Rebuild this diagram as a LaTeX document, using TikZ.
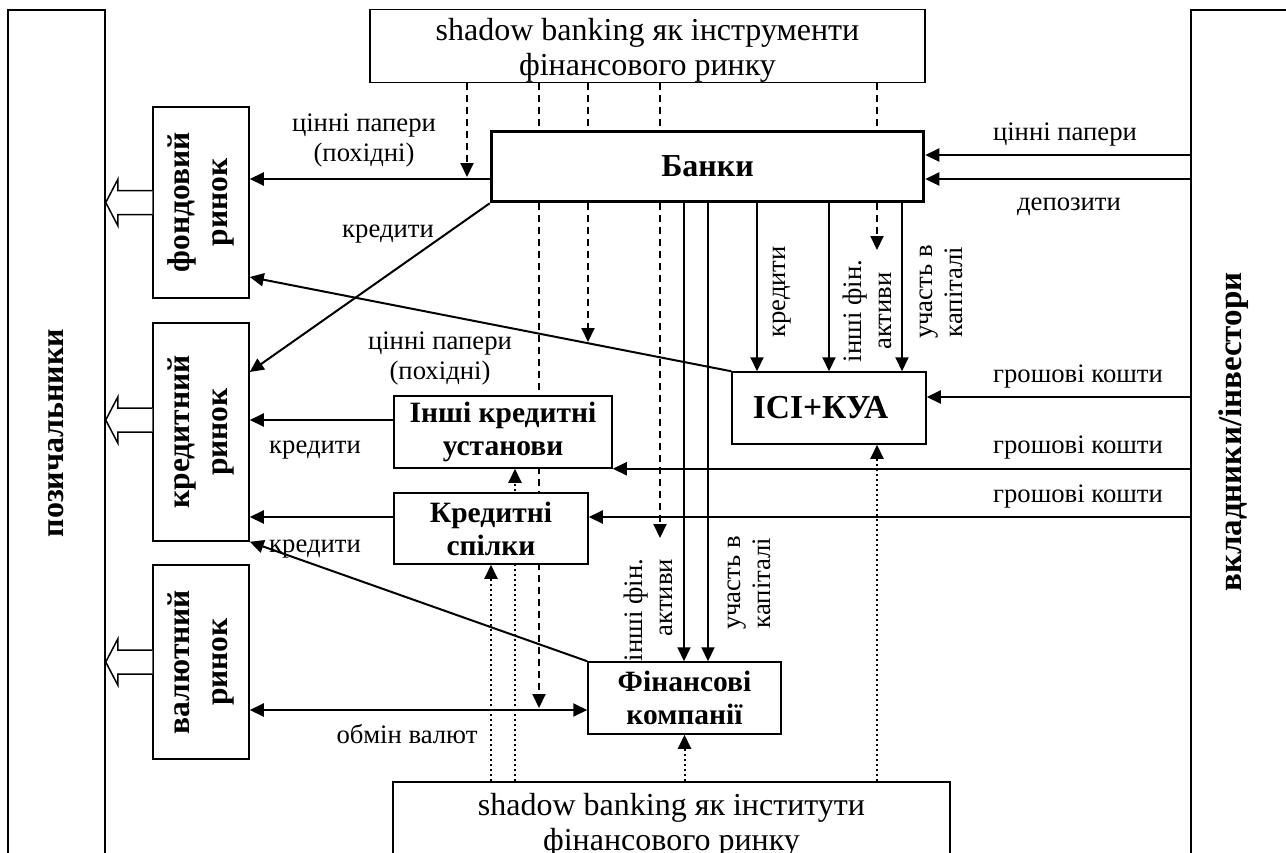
\documentclass[tikz,border=0pt]{standalone}
\usepackage{fontspec}
\setmainfont{Liberation Serif}
\usepackage{graphicx}
\usetikzlibrary{arrows.meta,calc,backgrounds}
\newcommand\hollowarrow[2]{%
  \draw[hollow] ($(#1.west|-#2)+(0,-12)$) -- ($(borrow.east|-#2)+(12,-12)$) -- ++(0,-11)
    -- (borrow.east|-#2) -- ($(borrow.east|-#2)+(12,23)$) -- ++(0,-11) -- ($(#1.west|-#2)+(0,12)$);}
\begin{document}
\begin{tikzpicture}[x=1pt,y=-1pt,
  box/.style={draw, line width=1.5pt, fill=white, inner sep=0pt, align=center,
    font=\fontsize{32}{35}\selectfont},
  bbox/.style={box, font=\fontsize{29.5}{33}\selectfont\bfseries},
  mbox/.style={box, font=\fontsize{31.5}{38}\selectfont\bfseries},
  lab/.style={font=\fontsize{26.7}{30}\selectfont, inner sep=0pt, align=center},
  arr/.style={line width=2pt, -{Triangle[length=14pt,width=13pt]}},
  dsh/.style={arr, dash pattern=on 7pt off 5pt},
  dot/.style={arr, dash pattern=on 2pt off 3pt},
  hollow/.style={draw, line width=1.5pt, fill=white}]
\useasboundingbox (0,0) rectangle (1286,852);
\clip (0,0) rectangle (1286,852);
% rows and columns
\foreach \r in {155,177,179,250,277,342,372,397,420,517,538,708,710}{\coordinate (r\r) at (0,\r);}
\foreach \c in {467,491,515,539,588,660,684,708,757,829,877,902}{\coordinate (k\c) at (\c,0);}
% boxes
\node[box, minimum width=555, minimum height=72] (top) at (647.5,46) {\rule{0pt}{31pt}shadow banking як інструменти\\фінансового ринку};
\node[box, minimum width=557, minimum height=78] (bot) at (671.5,821) {\rule{0pt}{30pt}shadow banking як інститути\\фінансового ринку};
\node[box, line width=3.5pt, font=\fontsize{32}{34}\selectfont\bfseries, minimum width=432, minimum height=70] (banks) at (707.5,166.5) {Банки};
\node[mbox, minimum width=96, minimum height=191] (fond) at (201,202.5) {\rotatebox{90}{\begin{tabular}{@{}c@{}}фондовий\\ринок\end{tabular}}};
\node[mbox, minimum width=96, minimum height=218] (credit) at (201,432) {\rotatebox{90}{\begin{tabular}{@{}c@{}}кредитний\\ринок\end{tabular}}};
\node[mbox, minimum width=96, minimum height=194] (val) at (201,662) {\rotatebox{90}{\begin{tabular}{@{}c@{}}валютний\\ринок\end{tabular}}};
\node[mbox, font=\fontsize{32}{38}\selectfont\bfseries, minimum width=97, minimum height=846] (borrow) at (56.5,433) {\rotatebox{90}{позичальники}};
\node[box, minimum width=109, minimum height=846] (inv) at (1245.5,433) {};
\node[font=\fontsize{33}{35}\selectfont\bfseries, inner sep=0pt] (invtxt) at (1234,432) {\rotatebox{90}{вкладники/інвестори}};
\node[bbox, font=\fontsize{33.5}{36}\selectfont\bfseries, minimum width=194, minimum height=72] (isi) at (829,408) {ІСІ+КУА\hspace*{17pt}};
\node[bbox, minimum width=218, minimum height=72] (oth) at (503,432) {Інші кредитні\\установи};
\node[bbox, minimum width=194, minimum height=71] (cu) at (491,528.5) {Кредитні\\спілки};
\node[bbox, minimum width=193, minimum height=72] (fin) at (684.5,698) {Фінансові\\компанії};
% dashed and dotted lines behind the boxes
\begin{pgfonlayer}{background}
\draw[dsh] (k467|-top.south) -- (k467|-r177);
\draw[dsh] (k539|-top.south) -- (k539|-r708);
\draw[dsh] (k588|-top.south) -- (k588|-r342);
\draw[dsh] (k660|-top.south) -- (k660|-r538);
\draw[dsh] (k877|-top.south) -- (k877|-r250);
\draw[dot] (k491|-bot.north) -- (cu.south);
\draw[dot] (k515|-bot.north) -- (k515|-oth.south);
\draw[dot] (fin.south|-bot.north) -- (fin.south);
\draw[dot] (k877|-bot.north) -- (k877|-isi.south);
\end{pgfonlayer}
% solid connectors
\draw[arr] (banks.west|-r179) -- (fond.east|-r179);
\draw[arr] (inv.west|-r155) -- (banks.east|-r155);
\draw[arr] (inv.west|-r179) -- (banks.east|-r179);
\draw[arr] (banks.south west) -- (credit.east|-r372);
\draw[arr] (isi.north west) -- (fond.east|-r277);
\draw[arr] (fin.north west) -- (credit.south east);
\draw[arr] (oth.west|-r420) -- (credit.east|-r420);
\draw[arr] (cu.west|-r517) -- (credit.east|-r517);
\draw[arr, {Triangle[length=14pt,width=13pt]}-{Triangle[length=14pt,width=13pt]}] (val.east|-r710) -- (fin.west|-r710);
\draw[arr] (inv.west|-r397) -- (isi.east|-r397);
\draw[arr] (inv.west|-oth.south) -- (oth.south east);
\draw[arr] (inv.west|-r517) -- (cu.east|-r517);
\draw[arr] (k757|-banks.south) -- (k757|-isi.north);
\draw[arr] (k829|-banks.south) -- (k829|-isi.north);
\draw[arr] (k902|-banks.south) -- (k902|-isi.north);
\draw[arr] (k684|-banks.south) -- (k684|-fin.north);
\draw[arr] (k708|-banks.south) -- (k708|-fin.north);
% hollow arrows
\hollowarrow{fond}{fond.west}
\hollowarrow{credit}{r420}
\hollowarrow{val}{val.west}
% labels
\node[lab] (l1) at (364,140) {цінні папери\\(похідні)};
\node[lab, anchor=base] (l2) at (388,237) {кредити};
\node[lab] (l3) at (440,358) {цінні папери\\(похідні)};
\node[lab, anchor=base] (l4) at (315,453) {кредити};
\node[lab, anchor=base] (l5) at (315,552) {кредити};
\node[lab, anchor=base] (l6) at (407,743) {обмін валют};
\node[lab, anchor=base] (l7) at (1065,140) {цінні папери};
\node[lab, anchor=base] (l8) at (1069,210) {депозити};
\node[lab, anchor=base] (l9) at (1078,382) {грошові кошти};
\node[lab, anchor=base] (l10) at (1078,453) {грошові кошти};
\node[lab, anchor=base] (l11) at (1078,502) {грошові кошти};
\node[lab, rotate=90] (v1) at (782,292) {кредити};
\node[lab, rotate=90] (v2) at (867,311) {інші фін.\\активи};
\node[lab, rotate=90] (v3) at (941,292) {участь в\\капіталі};
\node[lab, rotate=90, align=right] (v4) at (648,610) {інші фін.\\активи};
\node[lab, rotate=90] (v5) at (749,583) {участь в\\капіталі};
\end{tikzpicture}
\end{document}
